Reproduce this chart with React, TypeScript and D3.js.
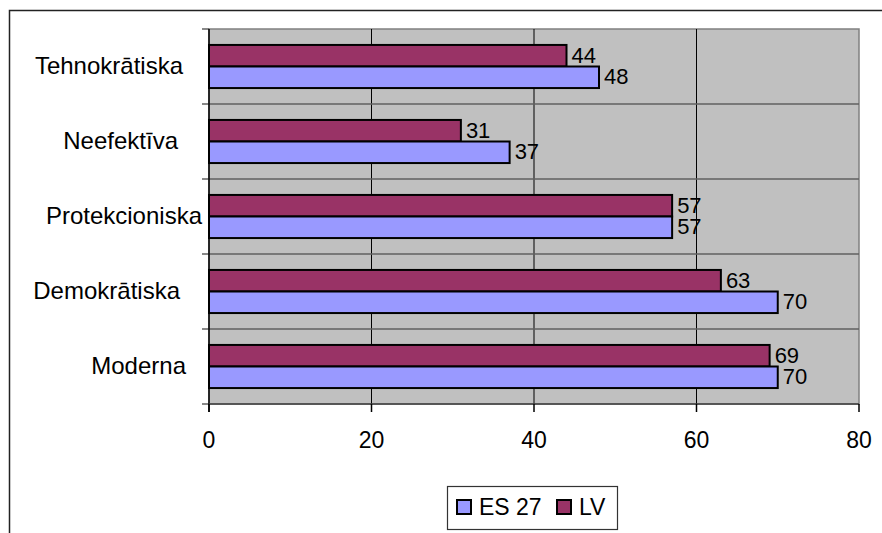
import React, { useEffect, useRef } from 'react';
import * as d3 from 'd3';

const categories = ['Tehnokrātiska', 'Neefektīva', 'Protekcioniska', 'Demokrātiska', 'Moderna'];
const es27 = [48, 37, 57, 70, 70];
const lv = [44, 31, 57, 63, 69];
const xTicks = [0, 20, 40, 60, 80];
const seriesNames = ['ES 27', 'LV'];
// Excel placed the category labels a bit unevenly; right edge of each label
const labelEnds = [183, 178, 202, 180, 186];

const W = 882;
const H = 533;
const FONT = 'Liberation Sans, Arial, sans-serif';
const LV_COLOR = '#993366';
const ES_COLOR = '#9999ff';

const App: React.FC = () => {
  const svgRef = useRef<SVGSVGElement>(null);

  useEffect(() => {
    if (!svgRef.current) return;
    const svg = d3.select(svgRef.current);
    svg.selectAll('*').remove();

    const plot = { left: 209, right: 859, top: 29, bottom: 404 };

    // outer chart border (runs off the picture at right and bottom)
    svg.append('rect')
      .attr('x', 9.5).attr('y', 10.5)
      .attr('width', W).attr('height', H)
      .attr('fill', 'white').attr('stroke', '#222').attr('stroke-width', 1.5);

    const x = d3.scaleLinear().domain([0, 80]).range([plot.left, plot.right]);
    const y = d3.scaleBand().domain(categories).range([plot.top, plot.bottom]);
    const inner = d3.scaleBand().domain(['LV', 'ES 27']).range([0, y.bandwidth()]).paddingOuter(0.74).paddingInner(0);

    svg.append('rect')
      .attr('x', plot.left).attr('y', plot.top)
      .attr('width', plot.right - plot.left).attr('height', plot.bottom - plot.top)
      .attr('fill', '#c0c0c0').attr('stroke', '#808080').attr('stroke-width', 1.5);

    // vertical gridlines
    svg.append('g').selectAll('line')
      .data(xTicks.slice(1, -1))
      .join('line')
      .attr('x1', d => x(d)).attr('x2', d => x(d))
      .attr('y1', plot.top).attr('y2', plot.bottom)
      .attr('stroke', '#000').attr('stroke-width', 1);

    // category separators
    svg.append('g').selectAll('line')
      .data(categories.slice(1))
      .join('line')
      .attr('x1', plot.left - 7).attr('x2', plot.right)
      .attr('y1', d => y(d)!).attr('y2', d => y(d)!)
      .attr('stroke', '#606060').attr('stroke-width', 1.5);

    // ticks on left axis (top and bottom)
    svg.append('g').selectAll('line')
      .data([plot.top, plot.bottom])
      .join('line')
      .attr('x1', plot.left - 7).attr('x2', plot.left)
      .attr('y1', d => d).attr('y2', d => d)
      .attr('stroke', '#606060').attr('stroke-width', 1.5);

    const rows = categories.map((c, i) => ({ c, i, lv: lv[i], es: es27[i] }));
    const bars = [
      ...rows.map(r => ({ cat: r.c, key: 'LV', v: r.lv, color: LV_COLOR })),
      ...rows.map(r => ({ cat: r.c, key: 'ES 27', v: r.es, color: ES_COLOR })),
    ];

    svg.append('g').selectAll('rect')
      .data(bars)
      .join('rect')
      .attr('x', x(0))
      .attr('y', d => y(d.cat)! + inner(d.key)!)
      .attr('width', d => x(d.v) - x(0))
      .attr('height', inner.bandwidth())
      .attr('fill', d => d.color)
      .attr('stroke', '#000').attr('stroke-width', 2);

    svg.append('g').selectAll('text')
      .data(bars)
      .join('text')
      .attr('x', d => x(d.v) + 5)
      .attr('y', d => y(d.cat)! + inner(d.key)! + inner.bandwidth() / 2)
      .attr('dy', '0.32em')
      .attr('font-family', FONT).attr('font-size', 22)
      .text(d => d.v);

    // left axis line
    svg.append('line')
      .attr('x1', plot.left).attr('x2', plot.left)
      .attr('y1', plot.top).attr('y2', plot.bottom + 8)
      .attr('stroke', '#000').attr('stroke-width', 1.5);

    // bottom axis
    svg.append('line')
      .attr('x1', plot.left).attr('x2', plot.right)
      .attr('y1', plot.bottom).attr('y2', plot.bottom)
      .attr('stroke', '#404040').attr('stroke-width', 1.5);

    svg.append('g').selectAll('line')
      .data(xTicks)
      .join('line')
      .attr('x1', d => x(d)).attr('x2', d => x(d))
      .attr('y1', plot.bottom).attr('y2', plot.bottom + 8)
      .attr('stroke', '#000').attr('stroke-width', 1.5);

    svg.append('g').selectAll('text')
      .data(xTicks)
      .join('text')
      .attr('x', d => x(d))
      .attr('y', 448)
      .attr('text-anchor', 'middle')
      .attr('font-family', FONT).attr('font-size', 23)
      .text(d => d);

    svg.append('g').selectAll('text')
      .data(categories)
      .join('text')
      .attr('x', (d, i) => labelEnds[i])
      .attr('y', d => y(d)! + y.bandwidth() / 2)
      .attr('dy', '0.33em')
      .attr('text-anchor', 'end')
      .attr('font-family', FONT).attr('font-size', 24)
      .text(d => d);

    // legend
    const lg = svg.append('g');
    lg.append('rect')
      .attr('x', 447.5).attr('y', 486.5).attr('width', 170).attr('height', 43)
      .attr('fill', 'white').attr('stroke', '#333').attr('stroke-width', 1.2);
    const items = [
      { name: seriesNames[0], color: ES_COLOR, sx: 457 },
      { name: seriesNames[1], color: LV_COLOR, sx: 557 },
    ];
    const it = lg.selectAll('g.item').data(items).join('g').attr('class', 'item');
    it.append('rect')
      .attr('x', d => d.sx).attr('y', 500).attr('width', 14).attr('height', 14)
      .attr('fill', d => d.color).attr('stroke', '#000').attr('stroke-width', 2);
    it.append('text')
      .attr('x', d => d.sx + 22).attr('y', 515)
      .attr('font-family', FONT).attr('font-size', 23)
      .text(d => d.name);
  }, []);

  return (
    <svg ref={svgRef} width={W} height={H}
      style={{ position: 'absolute', left: 0, top: 0, background: 'white' }} />
  );
};

export default App;
